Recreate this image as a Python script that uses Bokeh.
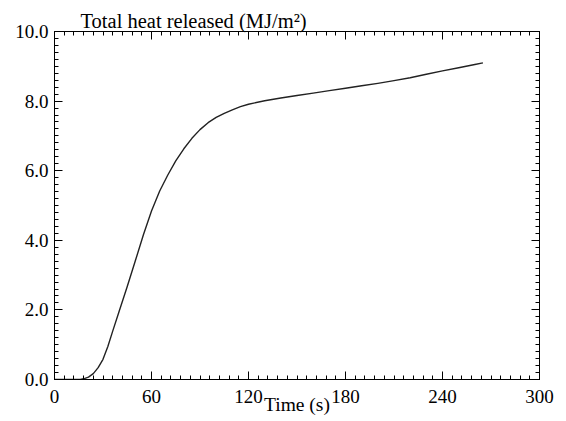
from bokeh.plotting import figure
from bokeh.models import LinearAxis, FixedTicker, Range1d, NumeralTickFormatter
from bokeh.embed import file_html
from bokeh.resources import INLINE

# data
time_s = [0, 10, 16, 18, 21, 24, 27, 30, 33, 36, 40, 45, 50, 55, 60, 65, 70, 75,
          80, 85, 90, 95, 100, 105, 110, 115, 120, 130, 140, 150, 160, 170, 180,
          190, 200, 210, 220, 230, 240, 250, 260, 265]
heat = [0, 0, 0.0, 0.02, 0.07, 0.17, 0.34, 0.58, 0.95, 1.39, 1.96, 2.67, 3.41,
        4.16, 4.84, 5.41, 5.87, 6.28, 6.63, 6.93, 7.18, 7.38, 7.53, 7.65, 7.75,
        7.84, 7.91, 8.01, 8.09, 8.16, 8.23, 8.30, 8.37, 8.44, 8.51, 8.59, 8.67,
        8.77, 8.87, 8.96, 9.05, 9.10]
x_ticks = [0, 60, 120, 180, 240, 300]
x_minor = list(range(0, 301, 6))
y_ticks = [0, 2, 4, 6, 8, 10]
y_minor = [i * 0.2 for i in range(0, 51)]
title_text = "Total heat released (MJ/m²)"
xlabel_text = "Time (s)"

FONT = "'Liberation Serif'"

p = figure(width=566, height=421, output_backend="svg", toolbar_location=None,
           x_range=Range1d(0, 300), y_range=Range1d(0, 10),
           min_border_left=54, min_border_right=27, min_border_top=31,
           min_border_bottom=42, x_axis_type=None, y_axis_type=None)
p.background_fill_color = "white"
p.border_fill_color = "white"
p.outline_line_color = "black"
p.outline_line_width = 1
p.xgrid.visible = False
p.ygrid.visible = False

def style(ax, labels=True):
    ax.axis_line_color = "black"
    ax.major_tick_in = 8
    ax.major_tick_out = 0
    ax.minor_tick_in = 4
    ax.minor_tick_out = 0
    ax.major_tick_line_color = "black"
    ax.minor_tick_line_color = "black"
    ax.major_label_text_font = FONT
    ax.major_label_text_font_size = "19px"
    ax.major_label_text_color = "black"
    if not labels:
        ax.major_label_overrides = {t: "" for t in ax.ticker.ticks}
        ax.major_label_standoff = 0

xb = LinearAxis(ticker=FixedTicker(ticks=x_ticks, minor_ticks=x_minor))
style(xb)
xb.major_label_standoff = 10
xb.axis_label = xlabel_text
xb.axis_label_text_font = FONT
xb.axis_label_text_font_size = "19.5px"
xb.axis_label_text_font_style = "normal"
xb.axis_label_text_color = "black"
xb.axis_label_standoff = -12
p.add_layout(xb, "below")

xt = LinearAxis(ticker=FixedTicker(ticks=x_ticks, minor_ticks=x_minor))
style(xt, labels=False)
p.add_layout(xt, "above")

yl = LinearAxis(ticker=FixedTicker(ticks=y_ticks, minor_ticks=y_minor),
                formatter=NumeralTickFormatter(format="0.0"))
style(yl)
yl.major_label_standoff = 6
p.add_layout(yl, "left")

yr = LinearAxis(ticker=FixedTicker(ticks=y_ticks, minor_ticks=y_minor))
style(yr, labels=False)
p.add_layout(yr, "right")

p.line(time_s, heat, line_color="#222222", line_width=1.4, line_join="round")

p.title.text = title_text
p.title.align = "left"
p.title.offset = 26
p.title.standoff = 0
p.title.text_font = FONT
p.title.text_font_size = "20.5px"
p.title.text_font_style = "normal"
p.title.text_color = "black"

open("out.html", "w").write(file_html(p, INLINE))
